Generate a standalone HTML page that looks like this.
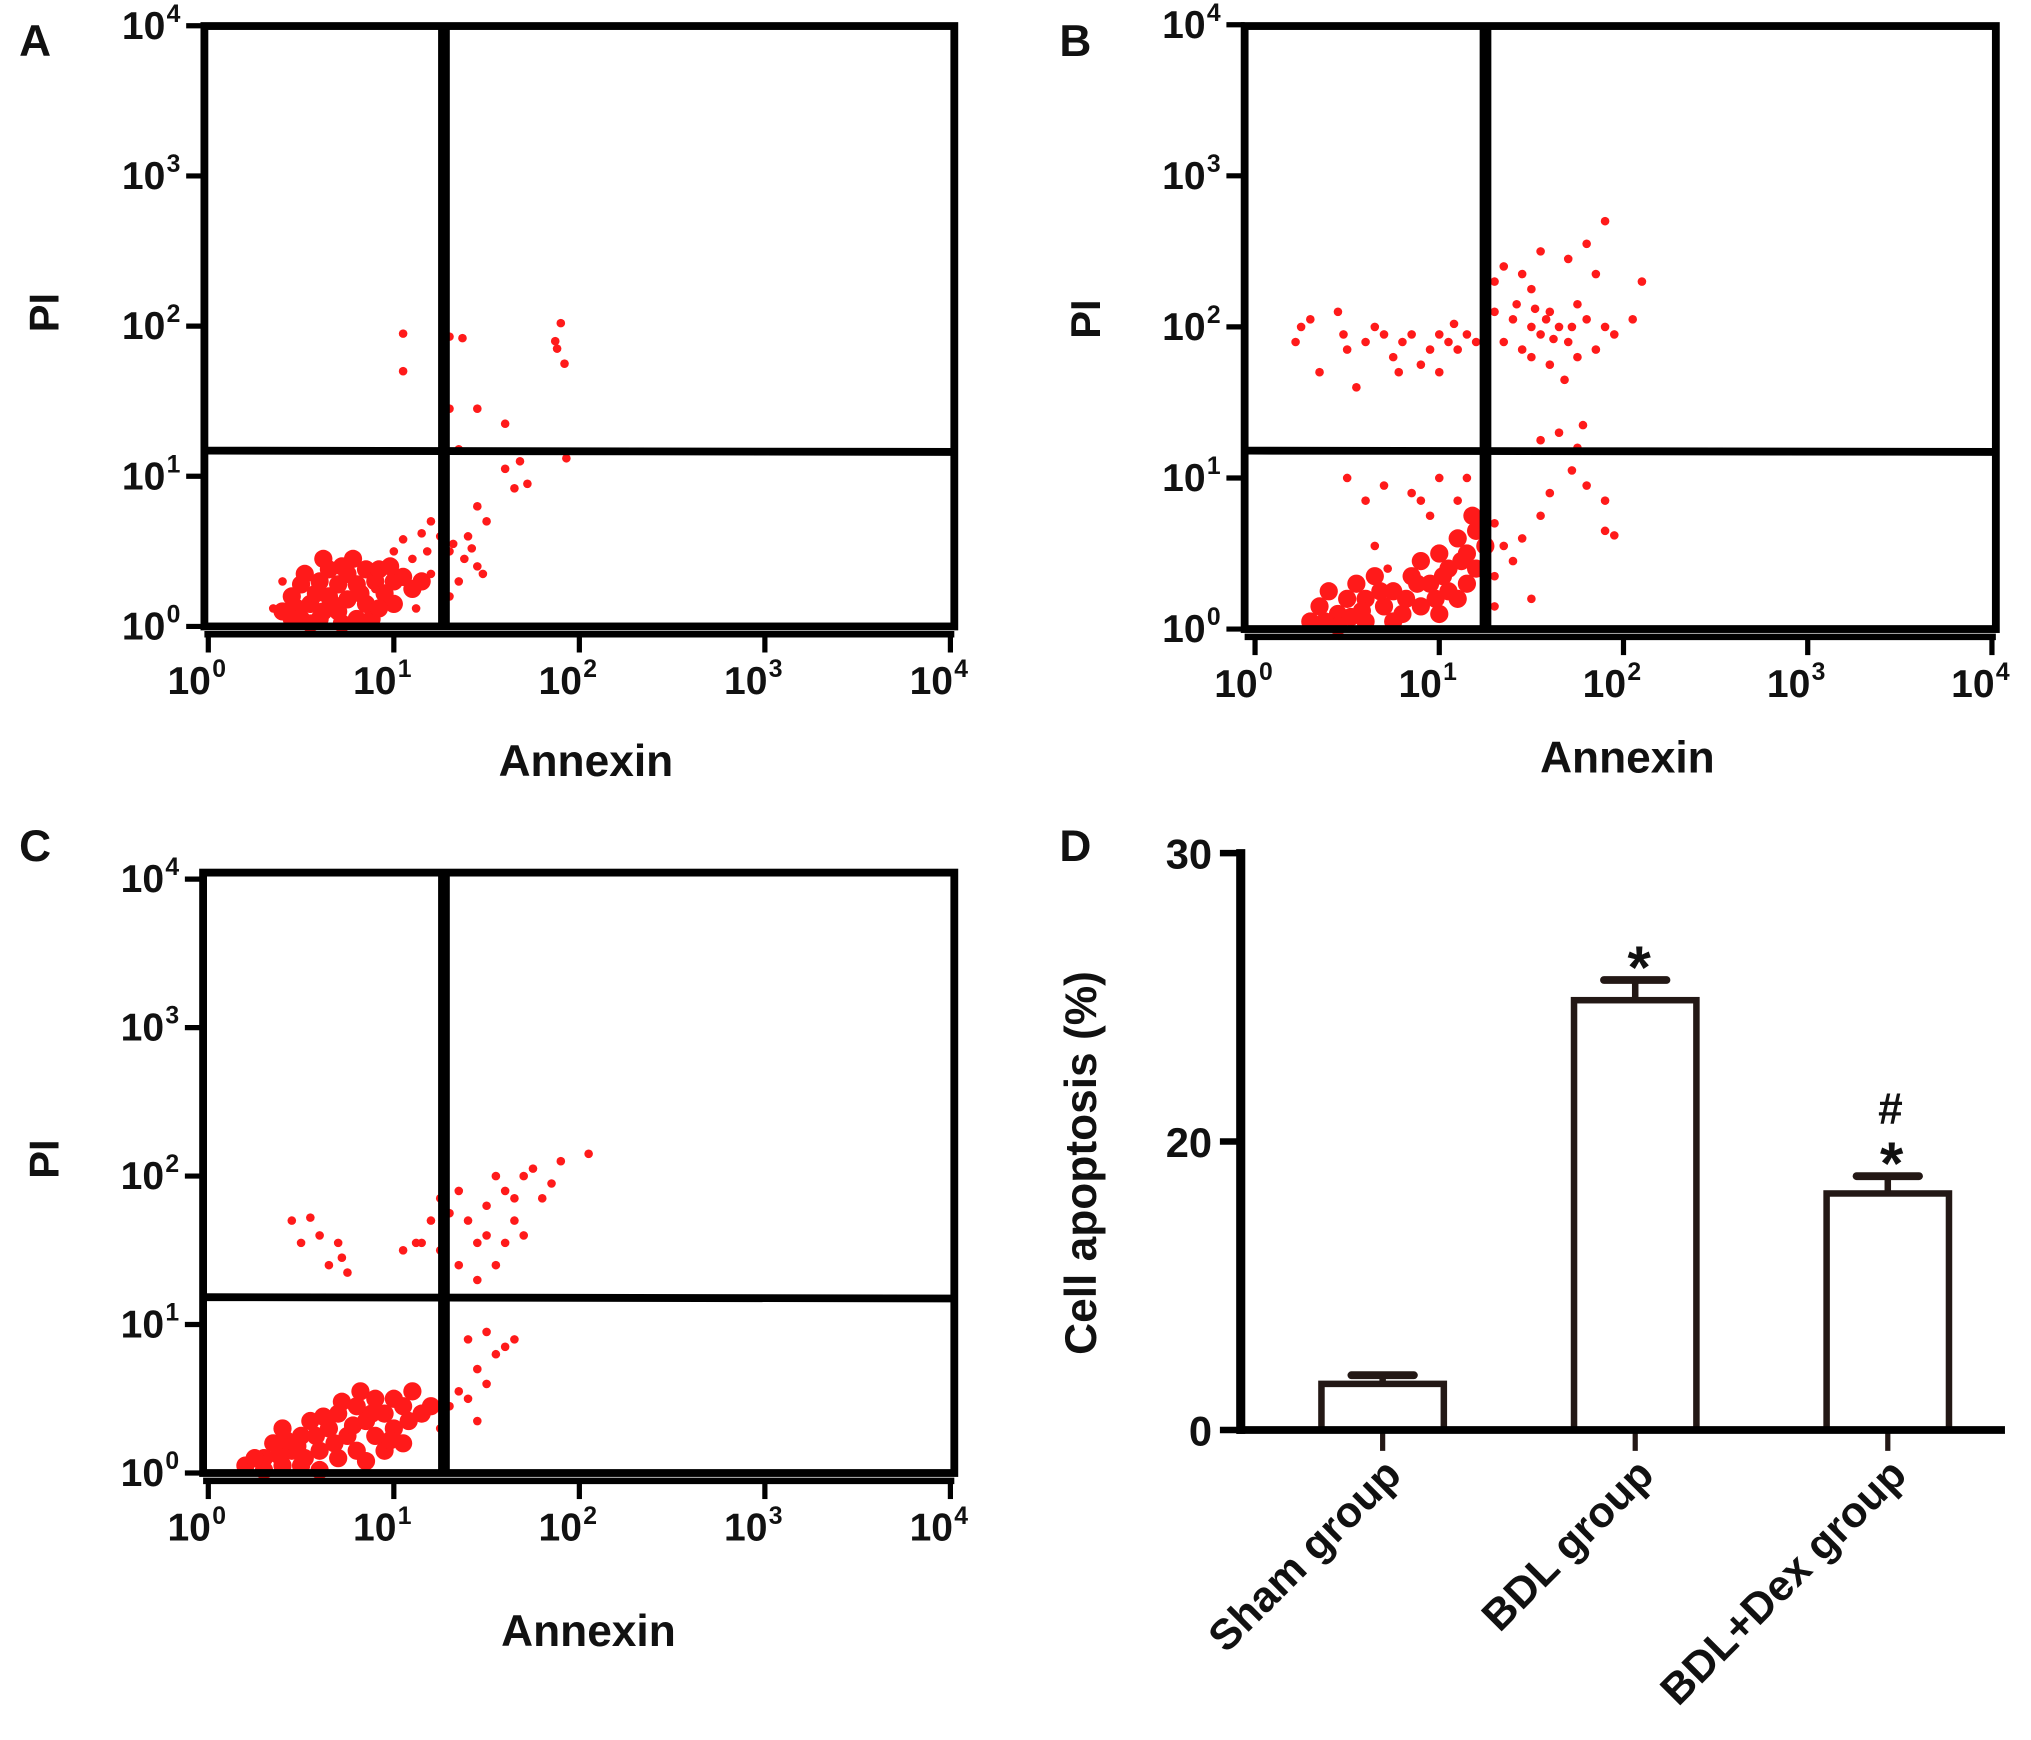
<!DOCTYPE html>
<html><head><meta charset="utf-8"><style>
html,body{margin:0;padding:0;background:#fff;}
svg{display:block;}
text{font-family:"Liberation Sans",Arial,sans-serif;font-weight:bold;fill:#111;}
</style></head><body>
<svg id="fig" width="2031" height="1740" viewBox="0 0 1560 1336" preserveAspectRatio="none" xmlns="http://www.w3.org/2000/svg"></svg>
<script>
// ---------- data ----------
const decadeTicks = [0,1,2,3,4];
// Panel A points (log10 Annexin, log10 PI)
const pointsA = [[1.05,1.95],[1.05,1.7],[1.3,1.93],[1.37,1.92],[1.3,1.45],[1.45,1.45],[1.6,1.35],[1.9,2.02],[1.88,1.85],[1.92,1.75],[1.87,1.9],[1.35,1.18],[1.6,1.05],[1.68,1.1],[1.93,1.12],[1.72,0.95],[1.65,0.92],[1.45,0.8],[1.5,0.7],[1.4,0.6],[1.3,0.5],[1.38,0.45],[1.45,0.4],[1.35,0.3],[1.48,0.35],[1.25,0.6],[1.3,0.2],[1.32,0.55],[1.42,0.52],[1.2,0.7],[1.15,0.62],[1.1,0.45],[1.2,0.35],[1.0,0.5],[0.95,0.4],[1.12,0.12],[0.9,0.25],[0.35,0.12],[0.4,0.3],[1.18,0.5],[1.05,0.58]];
const denseA = [[0.4,0.1],[0.45,0.2],[0.5,0.05],[0.5,0.28],[0.55,0.15],[0.6,0.3],[0.6,0.05],[0.65,0.2],[0.65,0.38],[0.7,0.1],[0.7,0.28],[0.75,0.35],[0.75,0.18],[0.8,0.05],[0.8,0.28],[0.85,0.38],[0.85,0.15],[0.9,0.3],[0.95,0.22],[1.0,0.3],[1.05,0.33],[1.1,0.25],[0.55,0.02],[0.62,0.45],[0.78,0.45],[0.92,0.38],[1.0,0.15],[0.72,0.02],[1.15,0.3],[0.88,0.05],[0.48,0.12],[0.58,0.22],[0.68,0.14],[0.82,0.22],[0.72,0.4],[0.92,0.12],[0.52,0.35],[0.62,0.1],[0.98,0.4],[0.45,0.05]];
// Panel B
const pointsB = [[0.25,2.0],[0.22,1.9],[0.3,2.05],[0.45,2.1],[0.5,1.85],[0.6,1.9],[0.65,2.0],[0.7,1.95],[0.8,1.9],[0.85,1.95],[0.95,1.85],[1.0,1.95],[1.05,1.9],[1.1,1.85],[1.15,1.95],[1.2,1.9],[0.9,1.75],[0.55,1.6],[0.75,1.8],[0.35,1.7],[0.48,1.95],[1.08,2.02],[1.3,2.3],[1.35,2.4],[1.45,2.35],[1.5,2.25],[1.55,2.5],[1.7,2.45],[1.8,2.55],[1.9,2.7],[1.85,2.35],[2.1,2.3],[1.75,2.15],[1.6,2.1],[1.5,2.0],[1.4,2.05],[1.3,2.1],[1.25,1.95],[1.35,1.9],[1.45,1.85],[1.55,1.95],[1.65,2.0],[1.7,1.9],[1.8,2.05],[1.9,2.0],[1.95,1.95],[1.85,1.85],[1.75,1.8],[1.6,1.75],[1.5,1.8],[1.68,1.65],[2.05,2.05],[1.55,1.25],[1.65,1.3],[1.75,1.2],[1.78,1.35],[1.72,1.05],[1.8,0.95],[1.9,0.65],[1.95,0.62],[1.6,0.9],[1.55,0.75],[1.45,0.6],[1.35,0.55],[1.3,0.7],[1.4,0.45],[1.3,0.35],[1.5,0.2],[1.3,0.15],[1.9,0.85],[0.5,1.0],[0.6,0.85],[0.7,0.95],[0.85,0.9],[0.95,0.75],[1.0,1.0],[1.1,0.85],[1.15,1.0],[0.9,0.85],[0.65,0.55],[0.72,0.4],[1.25,0.45],[1.58,2.05],[1.62,1.92],[1.42,2.15],[1.72,2.0],[1.52,2.12],[0.78,1.7],[1.0,1.7]];
const denseB = [[0.3,0.05],[0.35,0.15],[0.4,0.25],[0.45,0.1],[0.5,0.2],[0.55,0.3],[0.6,0.05],[0.6,0.2],[0.65,0.35],[0.7,0.15],[0.75,0.25],[0.8,0.1],[0.85,0.35],[0.9,0.45],[0.95,0.3],[1.0,0.5],[1.05,0.4],[1.1,0.6],[1.15,0.5],[1.2,0.65],[1.2,0.4],[1.05,0.25],[1.15,0.3],[0.9,0.15],[0.45,0.02],[1.25,0.55],[1.0,0.1],[0.75,0.05],[1.1,0.2],[0.38,0.05],[0.52,0.08],[0.68,0.25],[0.82,0.2],[0.98,0.2],[1.12,0.45],[1.22,0.7],[0.58,0.12],[0.88,0.3],[1.02,0.35],[1.18,0.75]];
// Panel C
const pointsC = [[0.45,1.7],[0.55,1.72],[0.6,1.6],[0.7,1.55],[0.65,1.4],[0.75,1.35],[0.5,1.55],[0.72,1.45],[1.05,1.5],[1.12,1.55],[1.2,1.7],[1.25,1.5],[1.3,1.75],[1.35,1.9],[1.4,1.7],[1.45,1.55],[1.5,1.8],[1.55,2.0],[1.6,1.9],[1.65,1.7],[1.7,2.0],[1.75,2.05],[1.8,1.85],[1.85,1.95],[1.9,2.1],[2.05,2.15],[1.55,1.4],[1.6,1.55],[1.45,1.3],[1.35,1.4],[1.7,1.6],[1.25,1.85],[1.15,1.55],[1.5,1.6],[1.65,1.85],[1.4,0.9],[1.5,0.95],[1.6,0.85],[1.65,0.9],[1.45,0.7],[1.5,0.6],[1.4,0.5],[1.45,0.35],[1.55,0.8],[1.3,0.45],[1.35,0.55],[1.25,0.3]];
const denseC = [[0.2,0.05],[0.3,0.1],[0.35,0.2],[0.4,0.05],[0.45,0.15],[0.5,0.25],[0.5,0.05],[0.55,0.35],[0.6,0.15],[0.65,0.3],[0.7,0.1],[0.7,0.4],[0.75,0.25],[0.8,0.45],[0.8,0.15],[0.85,0.35],[0.9,0.5],[0.9,0.25],[0.95,0.4],[1.0,0.5],[1.0,0.3],[1.05,0.45],[1.1,0.55],[1.15,0.4],[0.6,0.02],[0.85,0.08],[1.05,0.2],[0.4,0.3],[0.3,0.02],[1.2,0.45],[0.95,0.15],[0.25,0.1],[0.38,0.12],[0.48,0.18],[0.58,0.25],[0.68,0.2],[0.78,0.32],[0.88,0.4],[0.98,0.22],[1.08,0.35],[0.62,0.38],[0.72,0.48],[0.82,0.55],[0.52,0.1],[0.42,0.22]];
// Panel D
const groups = ["Sham group","BDL group","BDL+Dex group"];
const means = [3.2, 24.9, 16.4];
const errs = [0.6, 0.7, 1.2];
const barTicks = [0,20,30];
const barTickPos = [0,0.5,1]; // axis is drawn with equal spacing between labelled ticks

// ---------- helpers ----------
const NS="http://www.w3.org/2000/svg";
const svg=document.getElementById('fig');
function mk(tag,attrs,parent){const e=document.createElementNS(NS,tag);for(const k in attrs)e.setAttribute(k,attrs[k]);(parent||svg).appendChild(e);return e;}
function txt(x,y,s,size,anchor,parent){const t=mk('text',{x:x,y:y,'font-size':size,'text-anchor':anchor||'middle'},parent);t.textContent=s;return t;}

function flowPanel(cfg){
  const g=mk('g',{});
  
  
  const xs=l=>cfg.x0+l*cfg.dx, ys=l=>cfg.y0-l*cfg.dy;
  const pg=mk('g',{fill:'#ff1a1a'},g);
  
  
  cfg.dense.forEach(p=>{const c=mk('circle',{cx:xs(p[0]),cy:ys(p[1]),r:7},pg);
    
    });
  cfg.pts.forEach(p=>{const c=mk('circle',{cx:xs(p[0]),cy:ys(p[1]),r:3.3},pg);
    
    });
  const box=mk('rect',{x:cfg.L,y:cfg.T,width:cfg.R-cfg.L,height:cfg.B-cfg.T,fill:'none',stroke:'#000','stroke-width':6},g);
  
  
  const vg=mk('line',{x1:cfg.gx,y1:cfg.T,x2:cfg.gx,y2:cfg.B,stroke:'#000','stroke-width':9},g);
  
  
  const hg=mk('line',{x1:cfg.L,y1:cfg.gy,x2:cfg.R,y2:cfg.gy+1,stroke:'#000','stroke-width':6},g);
  
  
  const xa=mk('line',{x1:cfg.L,y1:cfg.B+6,x2:cfg.R,y2:cfg.B+6,stroke:'#000','stroke-width':5},g);
  
  
  decadeTicks.forEach(d=>{
    const x=xs(d);
    const tk=mk('line',{x1:x,y1:cfg.B+6,x2:x,y2:cfg.B+20,stroke:'#000','stroke-width':4},g);
    
    
    const t=txt(x+2,cfg.B+52,'10',30,'end',g);
    
    
    const s=txt(x+3,cfg.B+39,String(d),19,'start',g);
    s.setAttribute('font-weight','normal');
    
    
    const y=ys(d);
    const yt=mk('line',{x1:cfg.L-14,y1:y,x2:cfg.L,y2:y,stroke:'#000','stroke-width':4},g);
    
    
    const t2=txt(cfg.L-30,y+10,'10',30,'end',g);
    
    
    const s2=txt(cfg.L-29,y-3,String(d),19,'start',g);
    s2.setAttribute('font-weight','normal');
    
    
  });
  const xt=txt(cfg.ax,cfg.ay,'Annexin',34,'middle',g);
  
  
  const yt=txt(0,0,'PI',32,'middle',g);
  yt.setAttribute('transform','translate('+(cfg.px+12)+','+cfg.py+') rotate(-90)');
  
  
  const lb=txt(cfg.lx,cfg.ly,cfg.id,34,'middle',g);
  
  
}

flowPanel({id:'A',pts:pointsA,dense:denseA,L:157,R:733,T:20,B:481,gx:341,gy:346,x0:160,dx:142.5,y0:481,dy:115.3,ax:450,ay:596,px:33,py:240,lx:27,ly:43});
flowPanel({id:'B',pts:pointsB,dense:denseB,L:956,R:1533,T:20,B:483,gx:1141,gy:346,x0:964,dx:141.5,y0:483,dy:116,ax:1250,ay:593,px:833,py:245,lx:826,ly:43});
flowPanel({id:'C',pts:pointsC,dense:denseC,L:156,R:733,T:670,B:1131,gx:341,gy:996,x0:160,dx:142.5,y0:1131,dy:114,ax:452,ay:1264,px:33,py:890,lx:27,ly:661});

// ---------- Panel D ----------
(function(){
  const g=mk('g',{});
  
  
  const Y0=1098,Y1=655,X0=953,X1=1540;
  function yScale(v){
    for(let i=0;i<barTicks.length-1;i++){
      if(v<=barTicks[i+1]||i===barTicks.length-2){
        const f=barTickPos[i]+(v-barTicks[i])/(barTicks[i+1]-barTicks[i])*(barTickPos[i+1]-barTickPos[i]);
        return Y0-f*(Y0-Y1);
      }
    }
  }
  const bw=94;
  groups.forEach((name,i)=>{
    const cx=1062+i*194;
    const top=yScale(means[i]), cap=yScale(means[i]+errs[i]);
    const eb=mk('line',{x1:cx,y1:top,x2:cx,y2:cap,stroke:'#231815','stroke-width':5},g);
    
    
    const ec=mk('line',{x1:cx-24,y1:cap,x2:cx+24,y2:cap,stroke:'#231815','stroke-width':6,'stroke-linecap':'round'},g);
    
    
    const r=mk('rect',{x:cx-bw/2,y:top,width:bw,height:Y0-top,fill:'#fff',stroke:'#231815','stroke-width':5},g);
    
    
    const tk=mk('line',{x1:cx,y1:Y0,x2:cx,y2:Y0+16,stroke:'#231815','stroke-width':4},g);
    
    
    const lbl=txt(0,0,name,33,'end',g);
    lbl.setAttribute('transform','translate('+(cx+16)+','+(Y0+36)+') rotate(-45)');
    
    
    if(i>0){
      const st=txt(cx+3,cap+6,'*',46,'middle',g);
      st.setAttribute('font-weight','normal');
      
      
    }
    if(i===2){
      const h=txt(cx+2,cap-40,'#',34,'middle',g);
      h.setAttribute('font-weight','normal');
      
      
    }
  });
  const ya=mk('line',{x1:X0,y1:Y1-3,x2:X0,y2:Y0+3,stroke:'#000','stroke-width':7},g);
  
  
  const xa=mk('line',{x1:X0-3,y1:Y0,x2:X1,y2:Y0,stroke:'#000','stroke-width':6},g);
  
  
  barTicks.forEach(v=>{
    const y=yScale(v);
    const tk=mk('line',{x1:X0-16,y1:y,x2:X0,y2:y,stroke:'#000','stroke-width':5},g);
    
    
    const t=txt(X0-22,y+12,String(v),32,'end',g);
    
    
  });
  const yt=txt(0,0,'Cell apoptosis (%)',34,'middle',g);
  yt.setAttribute('transform','translate(842,893) rotate(-90)');
  
  
  const lb=txt(826,661,'D',34,'middle',g);
  
  
})();
</script>
</body></html>
